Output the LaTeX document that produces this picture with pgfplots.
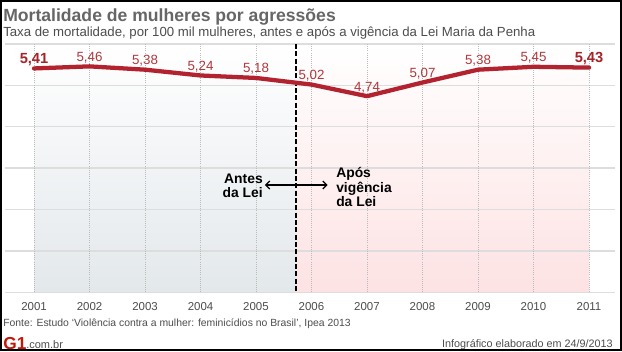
\documentclass[border=0pt]{standalone}
\usepackage{fontspec}
\setmainfont{Liberation Sans}
\usepackage{pgfplots}
\pgfplotsset{compat=1.18}
\usepackage{pgfplotstable}
\usetikzlibrary{arrows.meta}
\definecolor{lred}{HTML}{B2232F}
\definecolor{labred}{HTML}{B0383C}
\definecolor{boldred}{HTML}{A52329}
\definecolor{ttl}{HTML}{666666}
\definecolor{subc}{HTML}{4D4D4D}
\definecolor{grayfill}{HTML}{E3E8EB}
\definecolor{pinkfill}{HTML}{FDE2E3}
\definecolor{gridc}{HTML}{DDDDDD}
\definecolor{vgrid}{HTML}{BBBBBB}
\definecolor{g1red}{HTML}{C4170C}
\newcommand{\boldlab}{\color{boldred}\bfseries\fontsize{11}{13}\selectfont}
\newcommand{\normlab}{\color{labred}\fontsize{10}{12}\selectfont}

\pgfplotstableread{
year val
2001 5.41
2002 5.46
2003 5.38
2004 5.24
2005 5.18
2006 5.02
2007 4.74
2008 5.07
2009 5.38
2010 5.45
2011 5.43
}\data

\begin{document}
\begin{tikzpicture}
\path[use as bounding box] (0,0) rectangle (466.5pt,263.25pt);
\fill[white] (0,0) rectangle (466.5pt,263.25pt);
\begin{axis}[
  at={(3.75pt,44.03pt)}, anchor=south west,
  scale only axis, width=457.5pt, height=186.2pt,
  xmin=2000.477, xmax=2011.468, ymin=0, ymax=6,
  xtick={2001,2002,...,2011}, ytick=\empty,
  /pgf/number format/1000 sep={},
  /pgf/number format/assume math mode=true,
  xticklabel style={font=\fontsize{8.6}{10}\selectfont, text=subc, yshift=-4.4pt},
  axis line style={draw=none},
  major tick length=0pt,
  clip=false,
]
\addplot[draw=none, top color=white, bottom color=grayfill]
  coordinates {(2001,0) (2001,6) (2005.72,6) (2005.72,0)};
\addplot[draw=none, top color=white, bottom color=pinkfill]
  coordinates {(2005.72,0) (2005.72,6) (2011,6) (2011,0)};
\pgfplotsinvokeforeach{0,1,2,3,4,5,6}{
  \addplot[gridc, line width=1pt, forget plot] coordinates {(2000.477,#1) (2011.468,#1)};
}
\pgfplotsinvokeforeach{2001,2002,2003,2004,2005,2006,2007,2008,2009,2010,2011}{
  \addplot[vgrid, densely dotted, line width=0.6pt, forget plot] coordinates {(#1,0) (#1,6)};
}
\addplot[black, line width=2.1pt, dash pattern=on 3.8pt off 1.7pt]
  coordinates {(2005.72,6) (2005.72,0)};
\addplot[black, line width=0.9pt, {Straight Barb[length=3pt,width=6pt]}-{Straight Barb[length=3pt,width=6pt]}]
  coordinates {(2005.16,2.593) (2006.29,2.593)};
\addplot[lred, line width=3.2pt, line join=round, line cap=round, mark=none]
  table[x=year,y=val]{\data};
\addplot[draw=none, mark=none,
  visualization depends on={value \coordindex \as \idx},
  nodes near coords={\ifnum\idx=0 \boldlab\else\ifnum\idx=10 \boldlab\else\normlab\fi\fi\pgfmathprintnumber[fixed,fixed zerofill,precision=2,use comma]{\pgfplotspointmeta}},
  every node near coord/.append style={anchor=base, yshift=3.8pt}]
  table[x=year,y=val]{\data};
\end{axis}
\begin{scope}[x=0.75pt,y=0.75pt]
% titles
\node[anchor=base west, inner sep=0, text=ttl, font=\bfseries\fontsize{13.2}{15}\selectfont] at (3,329) {Mortalidade de mulheres por agressões};
\node[anchor=base west, inner sep=0, text=subc, font=\fontsize{9.9}{12}\selectfont] at (3,314) {Taxa de mortalidade, por 100 mil mulheres, antes e após a vigência da Lei Maria da Penha};
% annotations
\begin{scope}[every node/.style={inner sep=0, font=\bfseries\fontsize{10.4}{12}\selectfont}]
\node[anchor=base east] at (263,167) {Antes};
\node[anchor=base east] at (263,153) {da Lei};
\node[anchor=base west] at (336,173) {Após};
\node[anchor=base west] at (336,159) {vigência};
\node[anchor=base west] at (336,145) {da Lei};
\end{scope}
% footer
\node[anchor=base west, inner sep=0, text=subc, font=\fontsize{7.8}{10}\selectfont] at (3,25) {Fonte: Estudo ‘Violência contra a mulher: feminicídios no Brasil’, Ipea 2013};
\node[anchor=base east, inner sep=0, text=subc, font=\fontsize{8.1}{10}\selectfont] at (613,4) {Infográfico elaborado em 24/9/2013};
\node[anchor=base west, inner sep=0, text=g1red, font=\bfseries\fontsize{13}{15}\selectfont] at (3,2) {G1};
\node[anchor=base west, inner sep=0, text=subc, font=\fontsize{8.25}{10}\selectfont] at (26,3) {.com.br};
\draw[black, line width=1.3pt] (0.9,0.9) rectangle (621.1,350.1);
\end{scope}
\end{tikzpicture}
\end{document}
